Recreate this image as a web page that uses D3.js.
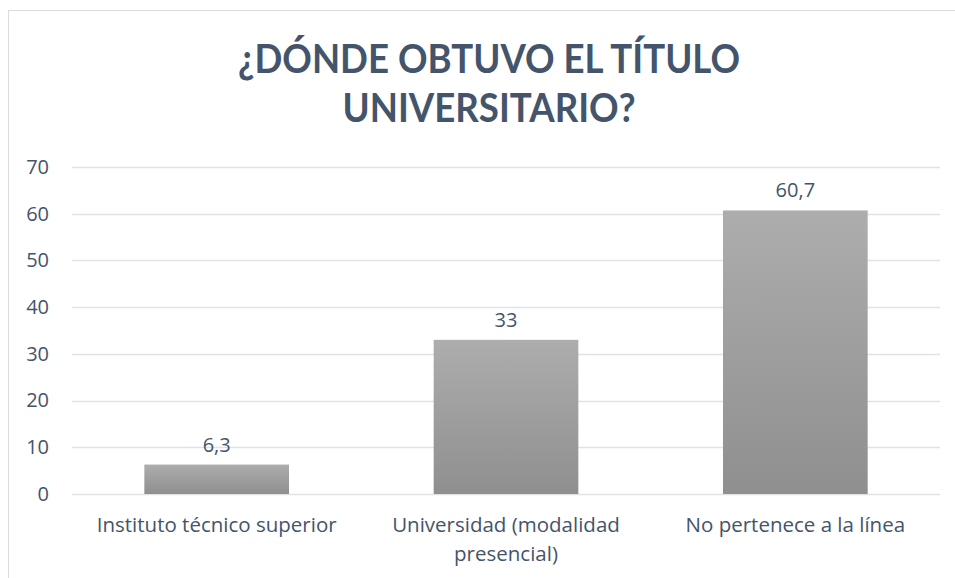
<!DOCTYPE html>
<html>
<head>
<meta charset="utf-8">
<script src="https://cdn.jsdelivr.net/npm/d3@7"></script>
<style>
  body { margin: 0; background: #fff; }
  text { font-family: "Open Sans", sans-serif; }
</style>
</head>
<body>
<svg id="chart" width="955" height="578"></svg>
<script>
// data
var categories = ["Instituto técnico superior", "Universidad (modalidad presencial)", "No pertenece a la línea"];
var values = [6.3, 33, 60.7];
var valueLabels = ["6,3", "33", "60,7"];
var yTicks = [0, 10, 20, 30, 40, 50, 60, 70];
var titleLines = ["¿DÓNDE OBTUVO EL TÍTULO", "UNIVERSITARIO?"];
var catLines = [["Instituto técnico superior"], ["Universidad (modalidad", "presencial)"], ["No pertenece a la línea"]];

var svg = d3.select("#chart");
var textColor = "#44546a";
var labelSize = "20.5px";

// outer frame of the chart area
svg.append("rect")
  .attr("x", 8.5).attr("y", 10.5)
  .attr("width", 960).attr("height", 580)
  .attr("fill", "none")
  .attr("stroke", "#d9dde3");

var grad = svg.append("defs").append("linearGradient")
  .attr("id", "barGrad").attr("x1", 0).attr("y1", 0).attr("x2", 0).attr("y2", 1);
grad.append("stop").attr("offset", "0%").attr("stop-color", "#adadad");
grad.append("stop").attr("offset", "100%").attr("stop-color", "#8f8f8f");

var plot = { left: 72, right: 940, top: 167, bottom: 494 };

var x = d3.scaleBand()
  .domain(categories)
  .range([plot.left, plot.right])
  .paddingInner(0.5)
  .paddingOuter(0.25);

var y = d3.scaleLinear()
  .domain([0, 70])
  .range([plot.bottom, plot.top]);

// title (Calibri-like: tall and narrow, so squeeze Lato a bit)
var titleWidths = [502, 293];
svg.append("g").selectAll("text")
  .data(titleLines)
  .join("text")
  .attr("x", 489)
  .attr("y", function(d, i) { return 73 + i * 49; })
  .attr("text-anchor", "middle")
  .attr("fill", textColor)
  .attr("textLength", function(d, i) { return titleWidths[i]; })
  .attr("lengthAdjust", "spacingAndGlyphs")
  .style("font-family", "Lato, sans-serif")
  .style("font-size", "40px")
  .style("font-weight", "bold")
  .text(function(d) { return d; });

// gridlines
svg.append("g").selectAll("line")
  .data(yTicks)
  .join("line")
  .attr("x1", plot.left).attr("x2", plot.right)
  .attr("y1", function(d) { return Math.round(y(d)) + 0.5; })
  .attr("y2", function(d) { return Math.round(y(d)) + 0.5; })
  .attr("stroke", "#dfe3e8")
  .attr("stroke-width", 1.5);

// y axis labels
var yAxis = svg.append("g")
  .attr("transform", "translate(" + (plot.left - 23) + ",0)")
  .call(d3.axisLeft(y).tickValues(yTicks).tickSize(0).tickPadding(0));
yAxis.select(".domain").remove();
yAxis.selectAll("text")
  .attr("fill", textColor)
  .style("font-size", "20px")
  .style("font-family", "'Open Sans', sans-serif");

// bars
svg.append("g").selectAll("rect")
  .data(values)
  .join("rect")
  .attr("x", function(d, i) { return x(categories[i]); })
  .attr("y", function(d) { return y(d); })
  .attr("width", x.bandwidth())
  .attr("height", function(d) { return y(0) - y(d); })
  .attr("fill", "url(#barGrad)");

// value labels
svg.append("g").selectAll("text")
  .data(values)
  .join("text")
  .attr("x", function(d, i) { return x(categories[i]) + x.bandwidth() / 2; })
  .attr("y", function(d) { return y(d) - 13; })
  .attr("text-anchor", "middle")
  .attr("fill", textColor)
  .style("font-size", "20px")
  .text(function(d, i) { return valueLabels[i]; });

// category labels, wrapped like the original
var xg = svg.append("g");
categories.forEach(function(c, i) {
  var t = xg.append("text")
    .attr("x", x(c) + x.bandwidth() / 2)
    .attr("y", 532)
    .attr("text-anchor", "middle")
    .attr("fill", textColor)
    .style("font-size", labelSize);
  catLines[i].forEach(function(line, k) {
    t.append("tspan")
      .attr("x", x(c) + x.bandwidth() / 2)
      .attr("dy", k === 0 ? 0 : 29)
      .text(line);
  });
});
</script>
</body>
</html>
